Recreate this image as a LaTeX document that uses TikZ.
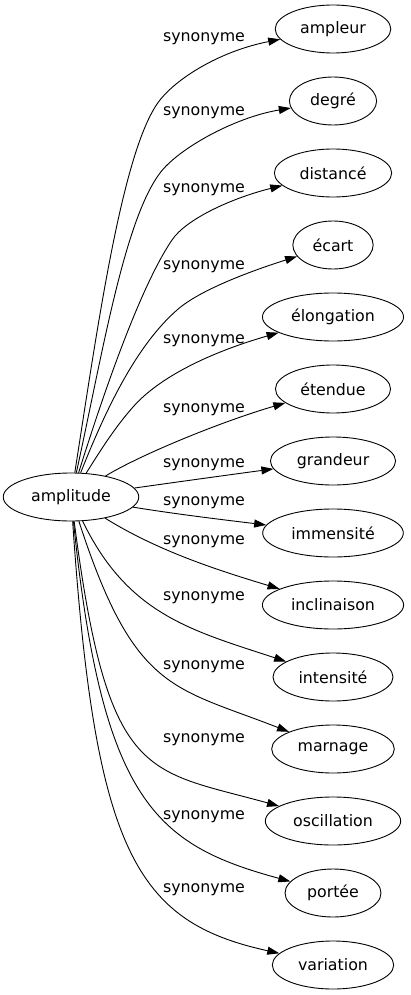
\documentclass[tikz,border=0pt]{standalone}
\usepackage{fontspec}
\setmainfont{DejaVu Sans}
\usetikzlibrary{shapes.geometric,arrows.meta}
\begin{document}
\begin{tikzpicture}[x=1pt,y=-1pt,
  every node/.style={font=\fontsize{15.8}{18}\selectfont},
  ell/.style={draw, ellipse, line width=0.9pt, inner xsep=8pt, inner ysep=2pt, minimum height=48pt},
  lab/.style={inner sep=0pt},
  edge/.style={line width=0.9pt, -{Triangle[length=12pt,width=8pt]}}]
\useasboundingbox (0,0) rectangle (410,995);
\node[ell] (amp) at (71,497) {amplitude};
\node[ell] (n1) at (333,29) {ampleur};
\node[ell] (n2) at (333,101) {degré};
\node[ell] (n3) at (333,173) {distancé};
\node[ell] (n4) at (333,245) {écart};
\node[ell] (n5) at (333,317) {élongation};
\node[ell] (n6) at (333,389) {étendue};
\node[ell] (n7) at (333,461) {grandeur};
\node[ell] (n8) at (333,533) {immensité};
\node[ell] (n9) at (333,605) {inclinaison};
\node[ell] (n10) at (333,677) {intensité};
\node[ell] (n11) at (333,749) {marnage};
\node[ell] (n12) at (333,821) {oscillation};
\node[ell] (n13) at (333,893) {portée};
\node[ell] (n14) at (333,965) {variation};
\node[lab] (l1) at (204,38.5) {synonyme};
\node[lab] (l2) at (204,113) {synonyme};
\node[lab] (l3) at (204,190) {synonyme};
\node[lab] (l4) at (204,267) {synonyme};
\node[lab] (l5) at (204,341) {synonyme};
\node[lab] (l6) at (204,410) {synonyme};
\node[lab] (l7) at (204,465) {synonyme};
\node[lab] (l8) at (204,503) {synonyme};
\node[lab] (l9) at (204,541.5) {synonyme};
\node[lab] (l10) at (204,598) {synonyme};
\node[lab] (l11) at (204,666.5) {synonyme};
\node[lab] (l12) at (204,740) {synonyme};
\node[lab] (l13) at (204,816.5) {synonyme};
\node[lab] (l14) at (204,890) {synonyme};
\draw[edge] (amp) .. controls (98,324) and (122.8,146.8) .. (160,100) .. controls (178.6,76.6) and (222,50.7) .. (n1);
\draw[edge] (amp) .. controls (102.4,354) and (124,221) .. (160,173) .. controls (178,149) and (234,117.5) .. (n2);
\draw[edge] (amp) .. controls (105,388.5) and (141,285.6) .. (172,240) .. controls (186,219) and (232,198) .. (n3);
\draw[edge] (amp) .. controls (106,409) and (136,346) .. (177,310) .. controls (199.5,290) and (251,271) .. (n4);
\draw[edge] (amp) .. controls (99.6,452) and (113.6,429) .. (133,407) .. controls (159.4,377) and (210,352.5) .. (n5);
\draw[edge] (amp) .. controls (140,455) and (220,422) .. (n6);
\draw[edge] (amp) .. controls (170,483) and (235,474) .. (n7);
\draw[edge] (amp) .. controls (175,514) and (225,520) .. (n8);
\draw[edge] (amp) .. controls (158,551) and (217,570) .. (n9);
\draw[edge] (amp) .. controls (128,615) and (192,630.5) .. (n10);
\draw[edge] (amp) .. controls (134.4,692) and (173,686.5) .. (n11);
\draw[edge] (amp) .. controls (108,782) and (145,769) .. (n12);
\draw[edge] (amp) .. controls (102,802) and (156,845) .. (n13);
\draw[edge] (amp) .. controls (95,852) and (136,922) .. (n14);
\end{tikzpicture}
\end{document}
